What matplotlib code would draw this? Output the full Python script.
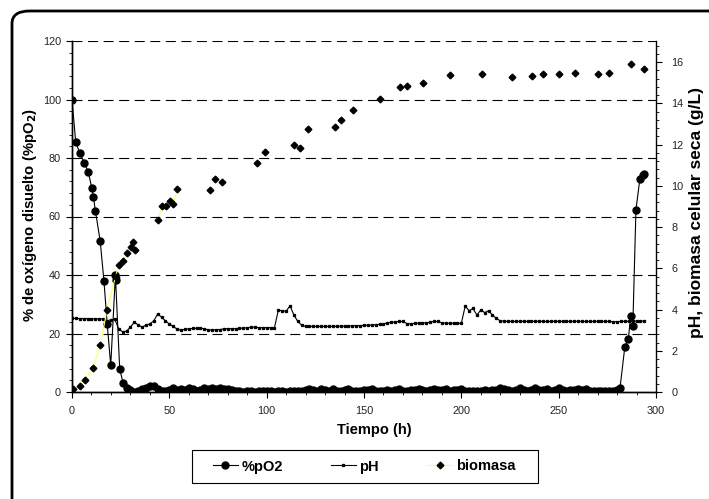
import matplotlib
matplotlib.use("Agg")
import matplotlib.pyplot as plt
from matplotlib.lines import Line2D
from matplotlib.patches import FancyBboxPatch, Rectangle
from matplotlib.ticker import MultipleLocator
import numpy as np

plt.rcParams["font.family"] = ["Liberation Sans", "DejaVu Sans"]

# %pO2 (left axis)
po2_t = [0, 1.9, 3.9, 6.3, 8.4, 10.1, 11, 12, 14.5, 16.4, 18.1, 19.9, 22.3, 22.4, 24.5, 26.2, 28.4,
         30, 32, 34, 36, 38, 40, 42, 44, 46, 48, 50, 52, 54, 56, 58, 60, 62, 64, 66, 68,
         70, 72, 74, 76, 78, 80, 82, 84, 86, 88, 90, 92, 94, 96, 98, 100, 102, 104, 106, 108,
         110, 112, 114, 116, 118, 120, 122, 124, 126, 128, 130, 132, 134, 136, 138, 140, 142, 144,
         146, 148, 150, 152, 154, 156, 158, 160, 162, 164, 166, 168, 170, 172, 174, 176, 178, 180,
         182, 184, 186, 188, 190, 192, 194, 196, 198, 200, 202, 204, 206, 208, 210, 212, 214, 216,
         218, 220, 222, 224, 226, 228, 230, 232, 234, 236, 238, 240, 242, 244, 246, 248, 250, 252,
         254, 256, 258, 260, 262, 264, 266, 268, 270, 272, 274, 276, 278, 280,
         281.5, 284, 285.8, 287, 288.1, 289.7, 291.7, 293.4, 294]
po2 = [100, 85.5, 81.8, 78.4, 75.2, 69.9, 66.7, 62, 51.5, 38, 23.1, 9.1, 40, 38.3, 8, 3.1, 1.2,
       0.6, 0.1, 0.5, 1.0, 1.5, 1.9, 1.9, 1.0, 0.3, 0.5, 0.8, 1.2, 0.6, 0.9, 0.7, 1.2, 1.1, 0.5, 0.8, 1.2,
       1.0, 1.3, 0.9, 1.2, 0.9, 1.1, 0.6, 0.3, 0.2, 0.1, 0.3, 0.2, 0.1, 0.3, 0.2, 0.4, 0.2, 0.1, 0.3, 0.2,
       0.1, 0.3, 0.2, 0.4, 0.3, 0.6, 1.0, 0.6, 0.5, 1.1, 0.7, 0.3, 1.0, 0.5, 0.4, 0.8, 1.0, 0.3,
       0.5, 0.4, 0.6, 0.7, 1.1, 0.5, 0.4, 0.5, 0.6, 0.4, 0.7, 1.0, 0.5, 0.4, 0.6, 0.7, 1.1, 0.6,
       0.4, 0.7, 1.0, 0.6, 0.8, 1.1, 0.5, 0.6, 0.8, 1.0, 0.5, 0.3, 0.4, 0.5, 0.3, 0.6, 0.5, 0.7,
       0.8, 1.2, 0.9, 0.6, 0.5, 0.8, 1.3, 0.7, 0.4, 0.8, 1.5, 0.8, 0.6, 1.1, 0.5, 0.7, 1.2, 0.6,
       0.4, 0.6, 0.8, 1.1, 0.6, 1.0, 0.5, 0.4, 0.3, 0.2, 0.3, 0.2, 0.4, 0.8,
       1.3, 15.5, 18.2, 26, 22.7, 62.3, 72.8, 74.3, 74.5]

# pH (right axis), sampled every 2 h
ph_t = np.arange(0, 296, 2)
ph = [3.57, 3.57, 3.56, 3.56, 3.56, 3.55, 3.55, 3.55, 3.54, 3.45, 3.50, 3.53, 3.05, 2.92, 2.95,
      3.15, 3.38, 3.26, 3.14, 3.25, 3.30, 3.45, 3.78, 3.63, 3.45, 3.30, 3.18, 3.05, 3.00, 3.04,
      3.06, 3.08, 3.09, 3.10, 3.06, 3.02, 3.00, 3.02, 3.03, 3.06, 3.07, 3.07, 3.07, 3.08, 3.10,
      3.12, 3.14, 3.15, 3.12, 3.12, 3.12, 3.12, 3.12, 3.97, 3.94, 3.92, 4.18, 3.73, 3.42, 3.24,
      3.18, 3.18, 3.18, 3.18, 3.18, 3.18, 3.18, 3.18, 3.19, 3.19, 3.20, 3.20, 3.21, 3.22, 3.22,
      3.23, 3.24, 3.24, 3.27, 3.28, 3.30, 3.35, 3.38, 3.40, 3.42, 3.42, 3.32, 3.31, 3.33, 3.34,
      3.35, 3.36, 3.38, 3.42, 3.42, 3.35, 3.34, 3.34, 3.33, 3.33, 3.33, 4.17, 3.94, 4.05, 3.73,
      3.98, 3.85, 3.94, 3.73, 3.57, 3.45, 3.43, 3.43, 3.42, 3.42, 3.43, 3.43, 3.42, 3.42, 3.43,
      3.43, 3.42, 3.42, 3.42, 3.43, 3.43, 3.42, 3.42, 3.42, 3.43, 3.43, 3.42, 3.42, 3.42, 3.42,
      3.43, 3.43, 3.42, 3.42, 3.41, 3.41, 3.42, 3.43, 3.43, 3.44, 3.44, 3.44, 3.44]

# biomasa celular seca (g/L), right axis
bio_t = [0.5, 4.3, 6.5, 10.8, 14.6, 18, 22.4, 24, 26, 28.3, 30.3, 31.5, 32.5,
         44.2, 46.1, 48.3, 50.5, 52.1, 54.1, 71, 73.5, 77.2, 95.1, 99.3, 113.9, 117.3,
         121, 135, 138, 144.1, 158.2, 168.5, 172.2, 180.1, 194.2, 210.4, 226, 236.1,
         241.9, 250.1, 258.2, 270.3, 275.9, 287, 294]
bio = [0.16, 0.28, 0.57, 1.18, 2.27, 4.0, 5.6, 6.15, 6.35, 6.75, 7.05, 7.25, 6.9,
       8.33, 9.01, 9.01, 9.27, 9.14, 9.85, 9.81, 10.31, 10.16, 11.1, 11.64, 11.99, 11.81,
       12.75, 12.86, 13.19, 13.67, 14.21, 14.78, 14.84, 14.97, 15.37, 15.42, 15.29, 15.33,
       15.42, 15.42, 15.47, 15.42, 15.47, 15.92, 15.68]

YELLOW = "#ffff66"

fig = plt.figure(figsize=(7.09, 4.99), dpi=100)
fig.patches.append(FancyBboxPatch((12 / 709, -0.2), 1.2, 1.2 - 11 / 499,
                                  boxstyle="round,pad=0,rounding_size=0.025",
                                  transform=fig.transFigure, fill=False,
                                  edgecolor="black", linewidth=2.0, zorder=0))

ax = fig.add_axes([72 / 709, 1 - 392 / 499, 584 / 709, 351 / 499])
ax2 = ax.twinx()

ax.set_xlim(0, 300)
ax.set_ylim(0, 120)
ax2.set_ylim(0, 17.02)

for yv in range(20, 121, 20):
    ax.axhline(yv, color="black", lw=0.8, ls=(0, (9, 5)), zorder=1)

ax.plot(po2_t, po2, color="black", lw=0.8, marker="o", ms=5, zorder=3)
ax2.plot(ph_t, ph, color="black", lw=0.8, marker="s", ms=1.4, zorder=2)

# faint connecting line of the biomass series, only visible in the early dense part
seg_t, seg_b = [bio_t[0]], [bio[0]]
for t, b in zip(bio_t[1:], bio[1:]):
    if t - seg_t[-1] > 6 or t > 60:
        if len(seg_t) > 1:
            ax2.plot(seg_t, seg_b, color=YELLOW, lw=0.8, zorder=2)
        seg_t, seg_b = [], []
    seg_t.append(t)
    seg_b.append(b)
ax2.plot(bio_t, bio, ls="none", color="black", marker="D", ms=3.4, zorder=3)

for a in (ax, ax2):
    a.spines["top"].set_visible(False)
    for s in ("left", "right", "bottom"):
        a.spines[s].set_linewidth(1.0)
ax.spines["right"].set_visible(False)

ax.xaxis.set_major_locator(MultipleLocator(50))
ax.xaxis.set_minor_locator(MultipleLocator(10))
ax.yaxis.set_major_locator(MultipleLocator(20))
ax.yaxis.set_minor_locator(MultipleLocator(4))
ax2.yaxis.set_major_locator(MultipleLocator(2))
ax2.yaxis.set_minor_locator(MultipleLocator(0.4))

tick_kw = dict(labelsize=7.8, colors="black", labelcolor="#222222", width=0.8)
ax.tick_params(axis="x", which="major", length=4, direction="out", pad=6, **tick_kw)
ax.tick_params(axis="y", which="major", length=4, direction="out", pad=4, **tick_kw)
ax.tick_params(axis="both", which="minor", length=2, direction="out", width=0.6)
ax2.tick_params(axis="y", which="major", length=4, direction="out", pad=7, **tick_kw)
ax2.tick_params(axis="y", which="minor", length=2, direction="out", width=0.6)

fig.text(374 / 709, 1 - 430 / 499, "Tiempo (h)", ha="center", va="center",
         fontsize=10.5, fontweight="bold")
fig.text(30 / 709, 1 - 215 / 499, "% de oxígeno disuelto (%pO$_\\mathbf{2}$)",
         rotation=90, ha="center", va="center", fontsize=10.7, fontweight="bold")
fig.text(696 / 709, 1 - 212 / 499, "pH, biomasa celular seca (g/L)",
         rotation=90, ha="center", va="center", fontsize=12.5, fontweight="bold")

# legend frame drawn separately so it can match the original box size
fig.patches.append(Rectangle((192 / 709, 1 - 483 / 499), 346 / 709, 33 / 499,
                             transform=fig.transFigure, fill=False,
                             edgecolor="black", linewidth=0.8, zorder=5))
handles = [
    Line2D([], [], color="black", lw=0.8, marker="o", ms=5),
    Line2D([], [], color="black", lw=0.8, marker="s", ms=1.4),
    Line2D([], [], color=YELLOW, lw=0.8, marker="D", ms=3.4,
           markerfacecolor="black", markeredgecolor="black"),
]
fig.legend(handles, ["%pO2", "pH", "biomasa"], ncol=3,
           loc="center", bbox_to_anchor=(364 / 709, 1 - 466.5 / 499),
           prop=dict(weight="bold", size=10.5), frameon=False,
           handlelength=1.7, columnspacing=3.3,
           borderpad=0, handletextpad=0.25, borderaxespad=0)

fig.savefig("out.png", dpi=100)
